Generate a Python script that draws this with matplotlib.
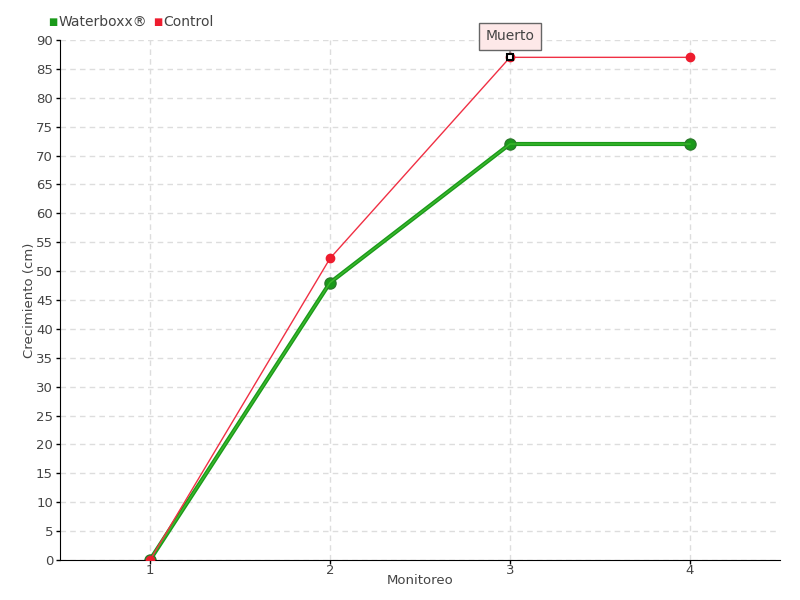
import numpy as np
import matplotlib.pyplot as plt

monitoreo = [1, 2, 3, 4]
waterboxx = [0, 48, 72, 72]
control = [0, 52.2, 87, 87]
yticks = list(range(0, 95, 5))
series_names = ['Waterboxx®', 'Control']
series_colors = ['#1a9a1a', '#ee1c2e']

txt = '#444444'
plt.rcParams['font.family'] = 'DejaVu Sans'

fig = plt.figure(figsize=(8, 6), dpi=100)
ax = fig.add_axes([60/800, 40/600, 720/800, 520/600])

ax.plot(monitoreo, waterboxx, color='#1a9a1a', lw=3, marker='o', ms=8,
        markeredgecolor='#2a7a2a', zorder=2)
ax.plot(monitoreo, waterboxx, color='#3cb82c', lw=1, zorder=2)
ax.plot(monitoreo, control, color='#f03044', lw=1, marker='o', ms=6,
        mfc='#ee1c2e', mec='#ee1c2e', zorder=3)
ax.plot(monitoreo[2], control[2], 's', mfc='white', mec='black', ms=5, mew=1.5, zorder=5)

ax.annotate('Muerto', xy=(monitoreo[2], control[2]), xytext=(0, 15),
            textcoords='offset points', ha='center', va='center',
            fontsize=10, color=txt,
            bbox=dict(boxstyle='square,pad=0.5', fc='#fde8e8', ec='#666666', lw=1),
            arrowprops=dict(arrowstyle='-', color='#666666', lw=0.8,
                            shrinkA=0, shrinkB=3))

ax.set_xlim(0.5, 4.5)
ax.set_ylim(0, 90)
ax.set_xticks(monitoreo)
ax.set_yticks(yticks)
ax.grid(True, color='#dddddd', ls=(0, (4, 3)), lw=1)
ax.set_axisbelow(True)
for s in ['top', 'right']:
    ax.spines[s].set_visible(False)
ax.tick_params(labelsize=9.5, length=3, width=1, colors='black', labelcolor=txt)
ax.tick_params(axis='x', pad=0)
ax.tick_params(axis='y', pad=2)
ax.set_xlabel('Monitoreo', color=txt, fontsize=9.5)
ax.set_ylabel('Crecimiento (cm)', color=txt, fontsize=9.5)
ax.xaxis.set_label_coords(0.5, -20/520, transform=ax.transAxes)
ax.yaxis.set_label_coords(-31/720, 0.5, transform=ax.transAxes)
ax.xaxis.label.set_va('center')
ax.yaxis.label.set_va('center')

# legend drawn as a row of square + label, measured so items don't overlap
renderer = fig.canvas.get_renderer()
x = 48
for name, col in zip(series_names, series_colors):
    sq = fig.text(x/800, 1-22/600, '■', color=col, fontsize=7, va='center')
    x += sq.get_window_extent(renderer).width + 1
    t = fig.text(x/800, 1-22/600, name, color=txt, fontsize=10, va='center')
    x += t.get_window_extent(renderer).width + 6

fig.savefig('out.png', dpi=100)
